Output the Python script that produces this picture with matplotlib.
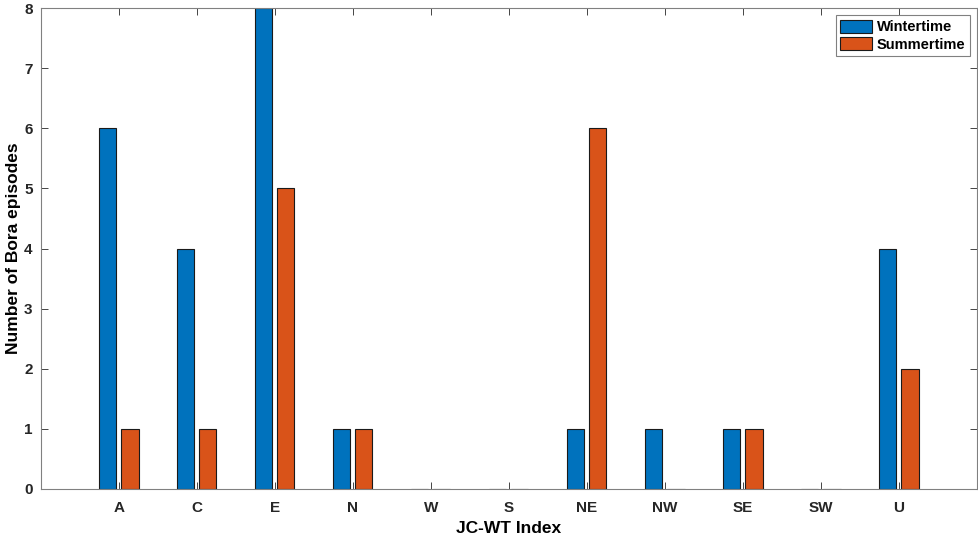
import matplotlib
matplotlib.use("Agg")
import matplotlib.pyplot as plt
import numpy as np

categories = ["A", "C", "E", "N", "W", "S", "NE", "NW", "SE", "SW", "U"]
wintertime = [6, 4, 8, 1, 0, 0, 1, 1, 1, 0, 4]
summertime = [1, 1, 5, 1, 0, 0, 6, 0, 1, 0, 2]

plt.rcParams['font.family'] = ['Liberation Sans', 'DejaVu Sans']
fig = plt.figure(figsize=(9.79, 5.37), dpi=100)
ax = fig.add_axes([41/979, 1-489/537, (977-41)/979, (489-8)/537])

x = np.arange(1, len(categories) + 1)
w = 0.22
ax.bar(x - 0.145, wintertime, w, color='#0072BD', edgecolor='#1a1a1a', linewidth=0.8, label='Wintertime')
ax.bar(x + 0.14, summertime, w, color='#D95319', edgecolor='#1a1a1a', linewidth=0.8, label='Summertime')

ax.set_xlim(0, 12)
ax.set_ylim(0, 8)
ax.set_xticks(x)
ax.set_xticklabels(categories, fontweight='bold', fontsize=11)
ax.set_yticks(range(0, 9))
ax.set_yticklabels([str(v) for v in range(0, 9)], fontweight='bold', fontsize=11)
ax.tick_params(direction='in', top=True, right=True, length=5, width=0.6, colors='#262626')
ax.tick_params(axis='x', pad=9)
ax.tick_params(axis='y', pad=6)
for s in ax.spines.values():
    s.set_color('#808080')
    s.set_linewidth(0.8)
ax.set_xlabel('JC-WT Index', fontweight='bold', fontsize=12.5, labelpad=4)
ax.set_ylabel('Number of Bora episodes', fontweight='bold', fontsize=12.5)
ax.yaxis.set_label_coords(-0.0214, 0.5)
leg = ax.legend(loc='upper right', prop={'weight': 'bold', 'size': 10.5},
                fancybox=False, edgecolor='#808080', framealpha=1,
                handlelength=2.2, handleheight=1.0, handletextpad=0.3,
                borderpad=0.3, labelspacing=0.2, borderaxespad=0.5)
leg.get_frame().set_linewidth(0.8)
fig.savefig('out.png', dpi=100)
